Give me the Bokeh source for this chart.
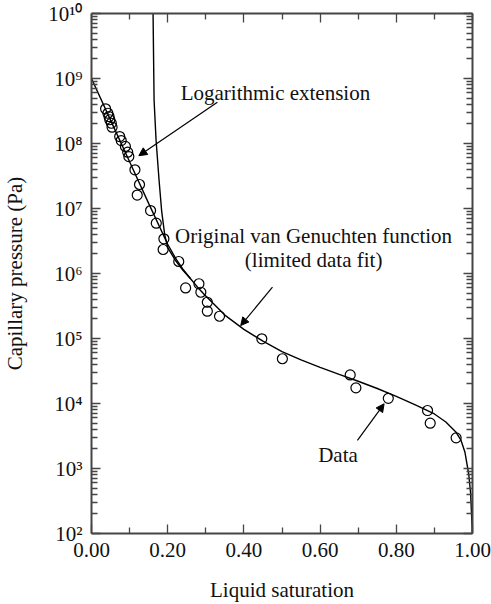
from bokeh.plotting import figure
from bokeh.models import (Range1d, FixedTicker, LogAxis, LinearAxis, Label, Arrow,
                          NormalHead, NumeralTickFormatter)
from bokeh.embed import file_html
from bokeh.resources import INLINE

# ---------------- data ----------------
sat_data = [0.037, 0.043, 0.046, 0.048, 0.052, 0.054, 0.074, 0.078, 0.089, 0.095,
            0.098, 0.114, 0.126, 0.120, 0.155, 0.170, 0.190, 0.188, 0.229, 0.247,
            0.282, 0.287, 0.304, 0.304, 0.336, 0.447, 0.501, 0.679, 0.694, 0.779,
            0.882, 0.889, 0.957]
pc_data = [3.42e8, 2.92e8, 2.60e8, 2.32e8, 2.05e8, 1.78e8, 1.28e8, 1.11e8, 9.0e7, 7.35e7,
           6.3e7, 3.94e7, 2.34e7, 1.61e7, 9.3e6, 5.94e6, 3.42e6, 2.34e6, 1.53e6, 6.0e5,
           6.95e5, 5.15e5, 3.61e5, 2.63e5, 2.20e5, 9.9e4, 4.88e4, 2.75e4, 1.74e4, 1.20e4,
           7.8e3, 4.98e3, 2.96e3]

# van Genuchten function with logarithmic extension
sat_ext = [0.0, 0.05, 0.10, 0.15, 0.20, 0.22, 0.24, 0.26, 0.28, 0.30, 0.35, 0.40, 0.45,
           0.50, 0.55, 0.60, 0.65, 0.70, 0.75, 0.80, 0.85, 0.90, 0.93, 0.957, 0.97,
           0.98, 0.99, 0.995, 0.999, 1.0]
pc_ext = [1.0e9, 2.29e8, 5.25e7, 1.20e7, 2.82e6, 1.74e6, 1.17e6, 8.3e5, 6.0e5, 4.5e5,
          2.29e5, 1.38e5, 9.1e4, 6.3e4, 4.7e4, 3.6e4, 2.8e4, 2.2e4, 1.7e4, 1.29e4,
          9.5e3, 6.9e3, 5.2e3, 3.6e3, 2.7e3, 1.8e3, 830, 420, 126, 32]

# original van Genuchten function (limited data fit), steep branch
sat_orig = [0.1612, 0.1616, 0.163, 0.1643, 0.1695, 0.1774, 0.184, 0.192, 0.20, 0.22,
            0.24, 0.26]
pc_orig = [3.2e10, 1.0e10, 1.9e9, 4.6e8, 1.12e8, 2.7e7, 9.3e6, 4.0e6, 2.5e6, 1.6e6,
           1.12e6, 8.3e5]

x_ticks = [0.0, 0.2, 0.4, 0.6, 0.8, 1.0]
x_minor = [0.1, 0.3, 0.5, 0.7, 0.9]
y_ticks = [100, 1000, 10000, 100000, 1000000, 10000000, 100000000, 1000000000,
           10000000000]
y_tick_labels = ["10²", "10³", "10⁴", "10⁵", "10⁶", "10⁷", "10⁸", "10⁹", "10¹⁰"]
y_minor = [m * t for t in y_ticks[:-1] for m in range(2, 10)]

FONT = "Liberation Serif"
AXC = "#454545"

p = figure(width=491, height=604, x_range=Range1d(0, 1), y_range=Range1d(1e2, 1e10),
           y_axis_type="log", output_backend="svg", toolbar_location=None,
           min_border_left=91, min_border_right=19, min_border_top=13,
           min_border_bottom=71, background_fill_color="white")
p.grid.visible = False
p.outline_line_color = None


def style(ax, ticks, minor, major_len, minor_len, show_labels):
    ax.ticker = FixedTicker(ticks=ticks, minor_ticks=minor)
    ax.axis_line_color = AXC
    ax.axis_line_width = 2
    ax.major_tick_line_color = AXC
    ax.minor_tick_line_color = AXC
    ax.major_tick_line_width = 1.3
    ax.minor_tick_line_width = 1.3
    ax.major_tick_in = major_len
    ax.major_tick_out = 0
    ax.minor_tick_in = minor_len
    ax.minor_tick_out = 0
    ax.major_label_text_font = FONT
    ax.major_label_text_color = "#111111"
    ax.axis_label_text_font = FONT
    ax.axis_label_text_font_style = "normal"
    ax.axis_label_text_color = "#111111"
    ax.axis_label_text_font_size = "21px"
    ax.major_label_text_font_size = "21px"
    if not show_labels:
        ax.major_label_text_font_size = "2px"
        ax.major_label_text_alpha = 0
        ax.major_label_standoff = 0


xa = p.xaxis[0]
style(xa, x_ticks, x_minor, 9, 6, True)
xa.formatter = NumeralTickFormatter(format="0.00")
xa.major_label_standoff = 9
xa.axis_label = "Liquid saturation"
xa.axis_label_standoff = 18

ya = p.yaxis[0]
style(ya, y_ticks, y_minor, 9, 6, True)
ya.major_label_overrides = dict(zip(y_ticks, y_tick_labels))
ya.major_label_standoff = 9
ya.axis_label = "Capillary pressure (Pa)"
ya.axis_label_standoff = 18

top = LinearAxis()
style(top, x_ticks, x_minor, 9, 6, False)
p.add_layout(top, "above")
right = LogAxis()
style(right, y_ticks, y_minor, 9, 6, False)
p.add_layout(right, "right")

# curves
p.line(sat_ext, pc_ext, line_color="black", line_width=1.4)
p.line(sat_orig, pc_orig, line_color="black", line_width=1.4)
# data
p.scatter(sat_data, pc_data, marker="circle", size=10, fill_color=None,
          line_color="black", line_width=1.2)


def label(x, y, text, align):
    p.add_layout(Label(x=x, y=y, text=text, text_font=FONT, text_font_size="21px",
                       text_align=align, text_baseline="alphabetic",
                       text_color="#111111"))

label(0.234, 10 ** 8.777, "Logarithmic extension", "left")
label(0.583, 10 ** 6.57, "Original van Genuchten function", "center")
label(0.583, 10 ** 6.215, "(limited data fit)", "center")
label(0.647, 10 ** 3.215, "Data", "center")

arrows = [
    (0.3304, 4.3e8, 0.1243, 6.5e7),
    (0.475, 6.15e5, 0.3916, 1.58e5),
    (0.698, 2.7e3, 0.768, 9.9e3),
]
for xs, ys, xe, ye in arrows:
    p.add_layout(Arrow(end=NormalHead(size=8, fill_color="black", line_color="black",
                                      line_width=1),
                       x_start=xs, y_start=ys, x_end=xe, y_end=ye,
                       line_color="black", line_width=1.2))

open("out.html", "w").write(file_html(p, INLINE))
